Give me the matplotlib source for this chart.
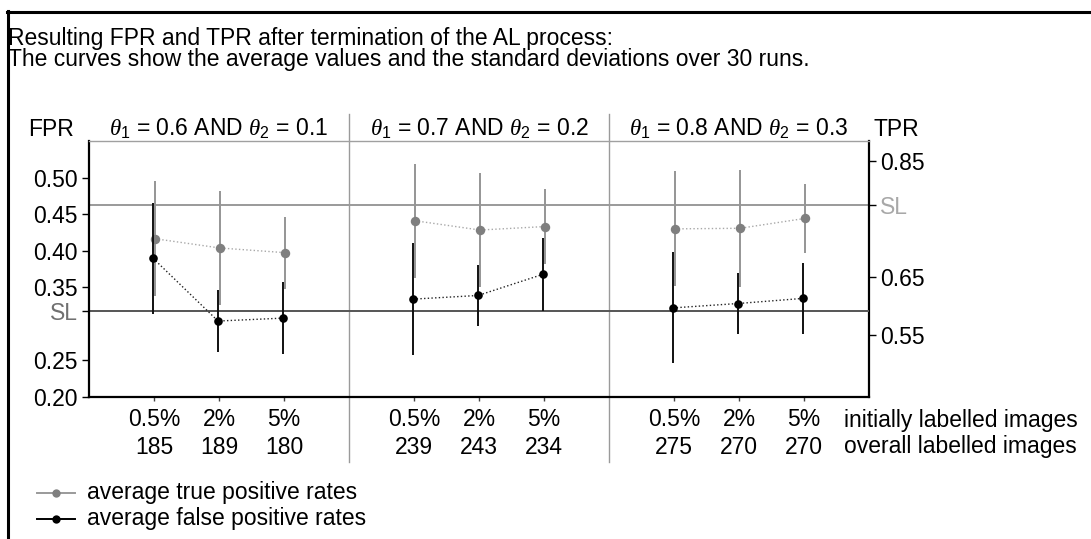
import matplotlib
matplotlib.use("Agg")
import matplotlib.pyplot as plt
from matplotlib.lines import Line2D
from matplotlib.transforms import blended_transform_factory

plt.rcParams['font.family'] = ['Liberation Sans', 'DejaVu Sans']
plt.rcParams['mathtext.fontset'] = 'custom'
plt.rcParams['mathtext.rm'] = 'Liberation Sans'
plt.rcParams['mathtext.it'] = 'Liberation Serif:italic'

# ---- data -------------------------------------------------------------
conditions = [
    r'$\theta_{\mathit{1}}$ = 0.6 AND $\theta_{\mathit{2}}$ = 0.1',
    r'$\theta_{\mathit{1}}$ = 0.7 AND $\theta_{\mathit{2}}$ = 0.2',
    r'$\theta_{\mathit{1}}$ = 0.8 AND $\theta_{\mathit{2}}$ = 0.3',
]
initial_pct = ['0.5%', '2%', '5%', '0.5%', '2%', '5%', '0.5%', '2%', '5%']
overall_counts = ['185', '189', '180', '239', '243', '234', '275', '270', '270']

tpr_mean = [0.716, 0.700, 0.692, 0.747, 0.731, 0.737, 0.733, 0.734, 0.751]
tpr_std = [0.099, 0.099, 0.062, 0.098, 0.099, 0.064, 0.099, 0.101, 0.060]
fpr_mean = [0.390, 0.304, 0.308, 0.334, 0.339, 0.368, 0.322, 0.328, 0.335]
fpr_std = [0.076, 0.042, 0.049, 0.077, 0.042, 0.050, 0.076, 0.042, 0.049]

fpr_sl = 0.318
tpr_sl = 0.774

fpr_ticks = [0.20, 0.25, 0.35, 0.40, 0.45, 0.50]
tpr_ticks = [0.55, 0.65, 0.85]

# ---- layout -----------------------------------------------------------
W, H = 1091, 539
FS = 16.5
fig = plt.figure(figsize=(W / 100, H / 100), dpi=100)


def fx(px):
    return px / W


def fy(py):
    return 1 - py / H


ax = fig.add_axes([fx(89), fy(397), fx(869 - 89), (397 - 141) / H])
ax2 = ax.twinx()
ax.set_zorder(ax2.get_zorder() + 1)
ax.patch.set_visible(False)

n_groups = len(conditions)
per_group = 3
xpos = [g * (per_group + 1) + i for g in range(n_groups) for i in range(per_group)]
dodge = 0.015
x_tpr = [x + dodge for x in xpos]
x_fpr = [x - dodge for x in xpos]

grey_pt = '#7f7f7f'
grey_bar = '#959595'

# TPR on the right axis
ax2.axhline(tpr_sl, color='#9a9a9a', lw=1.4, zorder=1)
ax2.errorbar(x_tpr, tpr_mean, yerr=tpr_std, fmt='none', ecolor=grey_bar,
             elinewidth=1.4, capsize=0, zorder=2)
for g in range(n_groups):
    s = slice(g * per_group, (g + 1) * per_group)
    ax2.plot(x_tpr[s], tpr_mean[s], ls=':', color='#a8a8a8', lw=1.0, zorder=3)
ax2.plot(x_tpr, tpr_mean, 'o', color=grey_pt, ms=6.8, mec='none', zorder=4)

# FPR on the left axis
ax.axhline(fpr_sl, color='#555555', lw=1.4, zorder=1)
ax.errorbar(x_fpr, fpr_mean, yerr=fpr_std, fmt='none', ecolor='#111111',
            elinewidth=1.4, capsize=0, zorder=2)
for g in range(n_groups):
    s = slice(g * per_group, (g + 1) * per_group)
    ax.plot(x_fpr[s], fpr_mean[s], ls=':', color='#222222', lw=1.0, zorder=3)
ax.plot(x_fpr, fpr_mean, 'o', color='black', ms=6.2, mec='none', zorder=4)

ax.set_xlim(-1, n_groups * (per_group + 1) - 1)
ax.set_ylim(0.20, 0.5505)
ax2.set_ylim(0.4431, 0.8845)

# ticks
ax.set_xticks(xpos)
ax.tick_params(axis='x', length=3, width=1, color='#444444', labelbottom=False)
left_vals = sorted(fpr_ticks + [fpr_sl])
left_labels = ['SL' if v == fpr_sl else f'{v:.2f}' for v in left_vals]
ax.set_yticks(left_vals)
ax.set_yticklabels(left_labels)
ax.tick_params(axis='y', direction='out', length=5, width=1, pad=3,
               labelsize=FS, color='black')
for lab in ax.get_yticklabels():
    if lab.get_text() == 'SL':
        lab.set_color('#707070')

right_vals = sorted(tpr_ticks + [tpr_sl])
right_labels = ['SL' if v == tpr_sl else f'{v:.2f}' for v in right_vals]
ax2.set_yticks(right_vals)
ax2.set_yticklabels(right_labels)
ax2.tick_params(axis='y', direction='out', length=5, width=1, pad=3,
                labelsize=FS, color='black')
for lab in ax2.get_yticklabels():
    if lab.get_text() == 'SL':
        lab.set_color('#a8a8a8')

# spines
for sp in ['left', 'bottom']:
    ax.spines[sp].set_linewidth(1.6)
    ax.spines[sp].set_color('black')
ax.spines['top'].set_color('#a0a0a0')
ax.spines['top'].set_linewidth(1.0)
ax.spines['right'].set_visible(False)
for sp in ['left', 'bottom', 'top']:
    ax2.spines[sp].set_visible(False)
ax2.spines['right'].set_linewidth(1.6)
ax2.spines['right'].set_color('black')

# group separators spanning header and footer
trans = blended_transform_factory(ax.transData, fig.transFigure)
for g in range(1, n_groups):
    xs = g * (per_group + 1) - 1
    ax.add_line(Line2D([xs, xs], [fy(114), fy(462)], transform=trans,
                       color='#9a9a9a', lw=1.0, clip_on=False, zorder=0))

# header
fig.text(fx(28), fy(130), 'FPR', fontsize=FS, va='center', ha='left')
fig.text(fx(873), fy(130), 'TPR', fontsize=FS, va='center', ha='left')
for g, cond in enumerate(conditions):
    xc = g * (per_group + 1) + 1
    ax.text(xc, fy(129), cond, transform=trans, fontsize=FS,
            ha='center', va='center')

# footer rows
for x, p, c in zip(xpos, initial_pct, overall_counts):
    ax.text(x, fy(420), p, transform=trans, fontsize=FS, ha='center', va='center')
    ax.text(x, fy(447), c, transform=trans, fontsize=FS, ha='center', va='center')
fig.text(fx(844), fy(420), 'initially labelled images', fontsize=FS,
         ha='left', va='center')
fig.text(fx(844), fy(447), 'overall labelled images', fontsize=FS,
         ha='left', va='center')

# title
fig.text(fx(8), fy(38), 'Resulting FPR and TPR after termination of the AL process:',
         fontsize=FS, ha='left', va='center')
fig.text(fx(8), fy(60), 'The curves show the average values and the standard '
         'deviations over 30 runs.', fontsize=FS, ha='left', va='center')

# legend
legend_items = [
    ('average true positive rates', '#9a9a9a', grey_pt, 493),
    ('average false positive rates', 'black', 'black', 519),
]
for label, lc, mc, y in legend_items:
    fig.add_artist(Line2D([fx(37), fx(75)], [fy(y), fy(y)], color=lc, lw=1.4))
    fig.add_artist(Line2D([fx(56)], [fy(y)], marker='o', color=mc, ms=6,
                          mec='none', ls='none'))
    fig.text(fx(87), fy(y), label, fontsize=FS, ha='left', va='center')

# outer frame (top and left edges)
fig.add_artist(Line2D([fx(7), 1], [fy(11.5), fy(11.5)], color='black', lw=2.2))
fig.add_artist(Line2D([fx(8), fx(8)], [fy(11), 0], color='black', lw=2.2))

fig.savefig('out.png', dpi=100)
